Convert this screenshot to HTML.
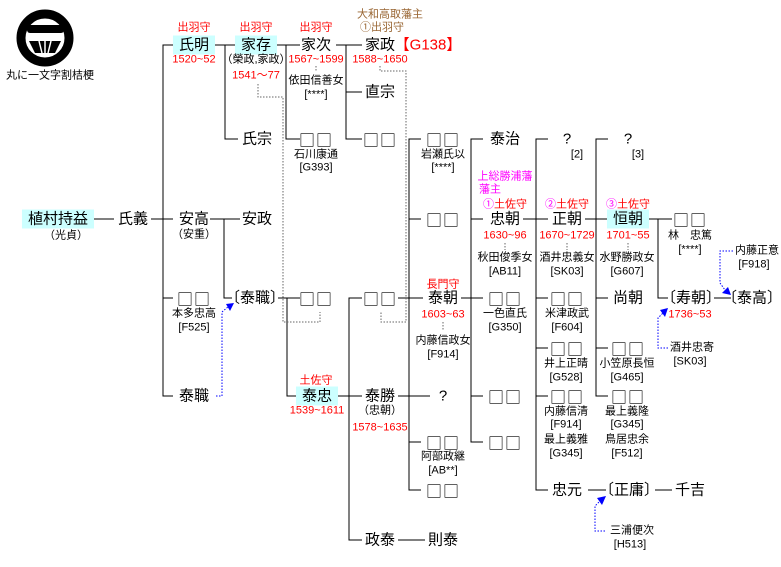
<!DOCTYPE html>
<html><head><meta charset="utf-8"><style>
body{margin:0;background:#fff;width:781px;height:567px;position:relative;overflow:hidden;font-family:"Liberation Sans","Noto Sans CJK JP",sans-serif;}
.t{position:absolute;transform:translate(-50%,-50%);white-space:nowrap;line-height:1;color:#000}
.n{font-size:15px}
.q{font-family:"Noto Sans CJK JP",sans-serif;font-size:16px;letter-spacing:1px}
.s{font-size:11px}
.r{font-size:11px;color:#f00}
.m{font-size:11px;color:#f0f}
.b{font-size:11px;color:#963}
.h{background:#ccffff;padding:2px 6px}
svg{position:absolute;left:0;top:0}
</style></head><body>
<svg width="781" height="567">
<circle cx="45" cy="38" r="24" stroke="#000" stroke-width="9" fill="#fff"/>
<rect x="27" y="25" width="37" height="8" rx="3" fill="#000"/>
<path d="M29 41 L61 41 L55 53 L35 53 Z" fill="#000"/>
<g stroke="#fff" stroke-width="1.5"><line x1="39" y1="41" x2="42" y2="53"/><line x1="45" y1="41" x2="45" y2="53"/><line x1="51" y1="41" x2="48" y2="53"/></g>
<g stroke="#000" stroke-width="1" fill="none">
<line x1="92" y1="219" x2="114" y2="219"/>
<line x1="151" y1="219" x2="163" y2="219"/>
<path d="M173 45H163V396H173M163 219H173M163 298H173"/>
<line x1="214" y1="45" x2="236" y2="45"/>
<path d="M225 45V139H238"/>
<line x1="276" y1="45" x2="300" y2="45"/>
<path d="M286 45V139H300"/>
<line x1="336" y1="45" x2="362" y2="45"/>
<path d="M346 45V139H362M346 92H362"/>
<line x1="210" y1="219" x2="240" y2="219"/>
<path d="M224 219V298H232"/>
<line x1="278" y1="298" x2="300" y2="298"/>
<path d="M287 298V396H298"/>
<line x1="338" y1="396" x2="362" y2="396"/>
<path d="M362 298H349V540H362"/>
<line x1="398" y1="540" x2="425" y2="540"/>
<line x1="398" y1="396" x2="430" y2="396"/>
<line x1="398" y1="298" x2="423" y2="298"/>
<path d="M421 139H409V490H421M409 219H421M409 442H421"/>
<line x1="461" y1="298" x2="483" y2="298"/>
<path d="M483 139H471V442H483M471 219H483M471 396H483"/>
<line x1="523" y1="219" x2="548" y2="219"/>
<path d="M548 139H536V490H548M536 298H548M536 348H548M536 396H548"/>
<line x1="585" y1="219" x2="610" y2="219"/>
<path d="M608 139H596V396H608M596 298H608M596 348H608"/>
<line x1="649" y1="219" x2="672" y2="219"/>
<path d="M658 219V298H668"/>
<line x1="714" y1="298" x2="731" y2="298"/>
<line x1="588" y1="490" x2="606" y2="490"/>
<line x1="655" y1="490" x2="672" y2="490"/>
</g>
<g stroke="#666" stroke-width="1" stroke-dasharray="1.5,1.5" fill="none">
<path d="M258 84V97H283V322H320V312"/>
<path d="M380 66V71H406V322H381V312"/>
<line x1="316" y1="66" x2="316" y2="72"/><line x1="443" y1="322" x2="443" y2="330"/>
<line x1="505" y1="243" x2="505" y2="250"/><line x1="567" y1="243" x2="567" y2="250"/><line x1="628" y1="243" x2="628" y2="250"/>
</g>
<g stroke="#00f" stroke-width="1" stroke-dasharray="1.5,1.5" fill="none">
<path d="M216 396H222V312L229 306"/>
<path d="M605 531H595V506L600 501"/>
<path d="M668 348H658V318L663 313"/>
<path d="M733 251H720V283L725 290"/>
</g>
<g fill="#00f">
<path d="M234 303L226 304L230 311Z"/>
<path d="M606 496L597 498L602 505Z"/>
<path d="M668 308L660 310L665 317Z"/>
<path d="M731 295L728 287L722 293Z"/>
</g>
</svg>
<div class="t s" style="left:50px;top:76px">丸に一文字割桔梗</div>
<div class="t n h" style="left:58px;top:219px">植村持益</div>
<div class="t s" style="left:66px;top:236px">（光貞）</div>
<div class="t n" style="left:133px;top:219px">氏義</div>
<div class="t r" style="left:194px;top:28px">出羽守</div>
<div class="t n h" style="left:194px;top:45px">氏明</div>
<div class="t r" style="left:194px;top:60px">1520~52</div>
<div class="t r" style="left:256px;top:28px">出羽守</div>
<div class="t n h" style="left:256px;top:45px">家存</div>
<div class="t s" style="left:256px;top:60px">（榮政,家政）</div>
<div class="t r" style="left:256px;top:76px">1541～77</div>
<div class="t r" style="left:316px;top:28px">出羽守</div>
<div class="t n" style="left:316px;top:45px">家次</div>
<div class="t r" style="left:316px;top:60px">1567~1599</div>
<div class="t s" style="left:316px;top:81px">依田信善女</div>
<div class="t s" style="left:316px;top:95px">[****]</div>
<div class="t b" style="left:390px;top:15px">大和高取藩主</div>
<div class="t b" style="left:382px;top:28px">①出羽守</div>
<div class="t n" style="left:380px;top:45px">家政</div>
<div class="t n" style="left:428px;top:45px;color:#f00">【G138】</div>
<div class="t r" style="left:380px;top:60px">1588~1650</div>
<div class="t n" style="left:380px;top:92px">直宗</div>
<div class="t q" style="left:380px;top:139px">□□</div>
<div class="t n" style="left:257px;top:139px">氏宗</div>
<div class="t q" style="left:316px;top:139px">□□</div>
<div class="t s" style="left:316px;top:155px">石川康通</div>
<div class="t s" style="left:316px;top:168px">[G393]</div>
<div class="t n" style="left:194px;top:219px">安高</div>
<div class="t s" style="left:194px;top:235px">（安重）</div>
<div class="t n" style="left:257px;top:219px">安政</div>
<div class="t q" style="left:194px;top:298px">□□</div>
<div class="t s" style="left:194px;top:314px">本多忠高</div>
<div class="t s" style="left:194px;top:328px">[F525]</div>
<div class="t n" style="left:255px;top:298px">〔泰職〕</div>
<div class="t q" style="left:316px;top:298px">□□</div>
<div class="t q" style="left:380px;top:298px">□□</div>
<div class="t n" style="left:194px;top:396px">泰職</div>
<div class="t r" style="left:316px;top:381px">土佐守</div>
<div class="t n h" style="left:317px;top:396px">泰忠</div>
<div class="t r" style="left:317px;top:411px">1539~1611</div>
<div class="t n" style="left:380px;top:396px">泰勝</div>
<div class="t s" style="left:380px;top:411px">（忠朝）</div>
<div class="t r" style="left:380px;top:428px">1578~1635</div>
<div class="t n" style="left:380px;top:540px">政泰</div>
<div class="t n" style="left:443px;top:540px">則泰</div>
<div class="t q" style="left:443px;top:139px">□□</div>
<div class="t s" style="left:443px;top:155px">岩瀬氏以</div>
<div class="t s" style="left:443px;top:168px">[****]</div>
<div class="t q" style="left:443px;top:219px">□□</div>
<div class="t r" style="left:443px;top:285px">長門守</div>
<div class="t n" style="left:443px;top:298px">泰朝</div>
<div class="t r" style="left:443px;top:315px">1603~63</div>
<div class="t s" style="left:443px;top:341px">内藤信政女</div>
<div class="t s" style="left:443px;top:355px">[F914]</div>
<div class="t n" style="left:443px;top:396px">?</div>
<div class="t q" style="left:443px;top:442px">□□</div>
<div class="t s" style="left:443px;top:457px">阿部政継</div>
<div class="t s" style="left:443px;top:471px">[AB**]</div>
<div class="t q" style="left:443px;top:490px">□□</div>
<div class="t n" style="left:505px;top:139px">泰治</div>
<div class="t m" style="left:505px;top:177px">上総勝浦藩</div>
<div class="t m" style="left:490px;top:190px">藩主</div>
<div class="t r" style="left:505px;top:205px"><span style="color:#f0f">①</span>土佐守</div>
<div class="t n" style="left:505px;top:219px">忠朝</div>
<div class="t r" style="left:505px;top:236px">1630~96</div>
<div class="t s" style="left:505px;top:258px">秋田俊季女</div>
<div class="t s" style="left:505px;top:272px">[AB11]</div>
<div class="t q" style="left:505px;top:298px">□□</div>
<div class="t s" style="left:505px;top:314px">一色直氏</div>
<div class="t s" style="left:505px;top:328px">[G350]</div>
<div class="t q" style="left:505px;top:396px">□□</div>
<div class="t q" style="left:505px;top:442px">□□</div>
<div class="t n" style="left:567px;top:139px">?</div>
<div class="t s" style="left:577px;top:155px">[2]</div>
<div class="t r" style="left:567px;top:205px"><span style="color:#f0f">②</span>土佐守</div>
<div class="t n" style="left:567px;top:219px">正朝</div>
<div class="t r" style="left:567px;top:236px">1670~1729</div>
<div class="t s" style="left:567px;top:258px">酒井忠義女</div>
<div class="t s" style="left:567px;top:272px">[SK03]</div>
<div class="t q" style="left:567px;top:298px">□□</div>
<div class="t s" style="left:567px;top:314px">米津政武</div>
<div class="t s" style="left:567px;top:328px">[F604]</div>
<div class="t q" style="left:567px;top:348px">□□</div>
<div class="t s" style="left:566px;top:364px">井上正晴</div>
<div class="t s" style="left:566px;top:378px">[G528]</div>
<div class="t q" style="left:567px;top:396px">□□</div>
<div class="t s" style="left:566px;top:412px">内藤信清</div>
<div class="t s" style="left:566px;top:425px">[F914]</div>
<div class="t s" style="left:566px;top:440px">最上義雅</div>
<div class="t s" style="left:566px;top:454px">[G345]</div>
<div class="t n" style="left:567px;top:490px">忠元</div>
<div class="t n" style="left:629px;top:490px">〔正庸〕</div>
<div class="t n" style="left:690px;top:490px">千吉</div>
<div class="t s" style="left:632px;top:531px">三浦便次</div>
<div class="t s" style="left:630px;top:545px">[H513]</div>
<div class="t n" style="left:628px;top:139px">?</div>
<div class="t s" style="left:638px;top:155px">[3]</div>
<div class="t r" style="left:628px;top:205px"><span style="color:#f0f">③</span>土佐守</div>
<div class="t n h" style="left:628px;top:219px">恒朝</div>
<div class="t r" style="left:628px;top:236px">1701~55</div>
<div class="t s" style="left:627px;top:258px">水野勝政女</div>
<div class="t s" style="left:627px;top:272px">[G607]</div>
<div class="t n" style="left:628px;top:298px">尚朝</div>
<div class="t q" style="left:628px;top:348px">□□</div>
<div class="t s" style="left:627px;top:364px">小笠原長恒</div>
<div class="t s" style="left:627px;top:378px">[G465]</div>
<div class="t q" style="left:628px;top:396px">□□</div>
<div class="t s" style="left:627px;top:412px">最上義隆</div>
<div class="t s" style="left:627px;top:425px">[G345]</div>
<div class="t s" style="left:627px;top:440px">鳥居忠余</div>
<div class="t s" style="left:627px;top:454px">[F512]</div>
<div class="t q" style="left:690px;top:219px">□□</div>
<div class="t s" style="left:690px;top:236px">林　忠篤</div>
<div class="t s" style="left:690px;top:250px">[****]</div>
<div class="t n" style="left:691px;top:298px">〔寿朝〕</div>
<div class="t r" style="left:690px;top:315px">1736~53</div>
<div class="t s" style="left:692px;top:348px">酒井忠寄</div>
<div class="t s" style="left:690px;top:362px">[SK03]</div>
<div class="t n" style="left:752px;top:298px">〔泰高〕</div>
<div class="t s" style="left:757px;top:251px">内藤正意</div>
<div class="t s" style="left:754px;top:265px">[F918]</div>
</body></html>
